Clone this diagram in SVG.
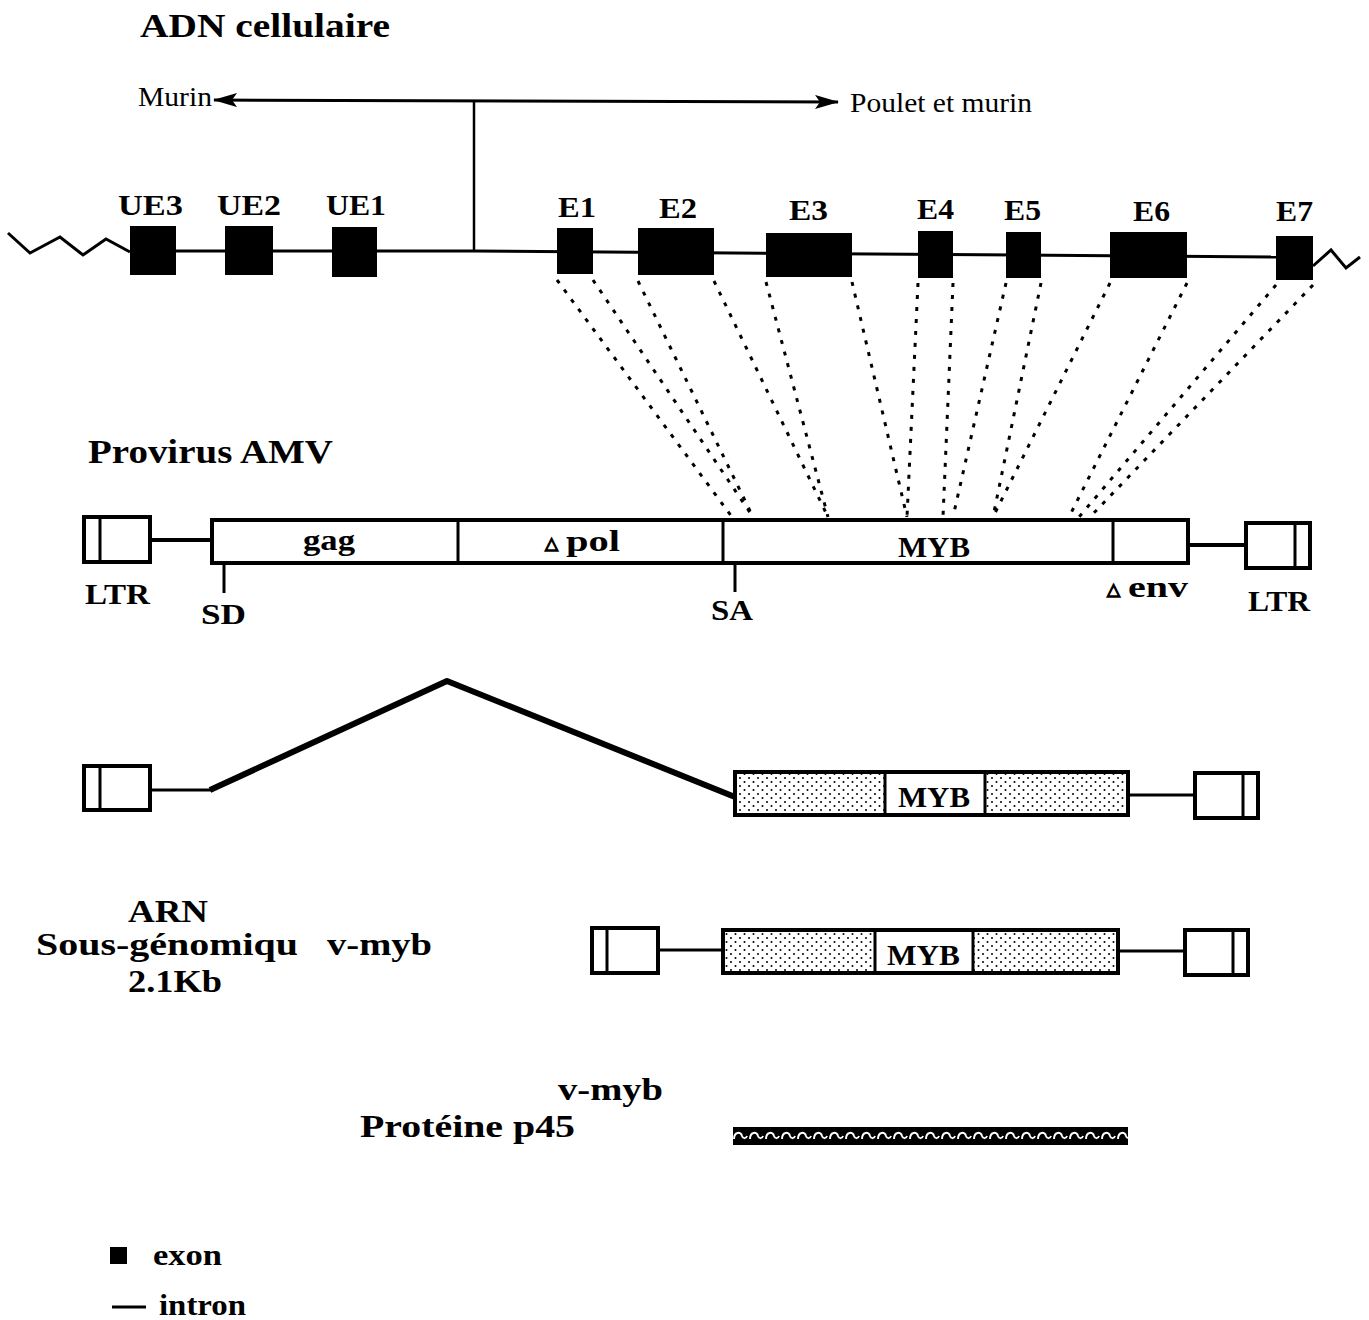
<svg xmlns="http://www.w3.org/2000/svg" width="1369" height="1320" viewBox="0 0 1369 1320">
<style>
.b{font-family:"Liberation Serif","Times New Roman",serif;font-weight:bold;fill:#000}
.r{font-family:"Liberation Serif","Times New Roman",serif;fill:#000}
.ln{stroke:#000;fill:none;stroke-width:3}
.thk{stroke:#000;fill:none;stroke-width:6;stroke-linejoin:round}
.c4{stroke:#000;fill:none;stroke-width:4}
.box{stroke:#000;fill:#fff;stroke-width:4}
.dv{stroke:#000;stroke-width:3}
.ex{fill:#000}
.dot{stroke:#000;stroke-width:3;stroke-dasharray:4 8;fill:none}
.tri{font-family:"DejaVu Sans",sans-serif;font-weight:bold;stroke:#000;stroke-width:1.4}
</style>
<defs>
<marker id="ah" viewBox="0 0 24 14" refX="23" refY="7" markerWidth="24" markerHeight="14" markerUnits="userSpaceOnUse" orient="auto-start-reverse">
<path d="M0,0 L24,7 L0,14 L5,7 z" fill="#000"/>
</marker>
<pattern id="stip" width="9" height="8" patternUnits="userSpaceOnUse">
<rect width="9" height="8" fill="#fff"/>
<circle cx="2" cy="2" r="1" fill="#000"/>
<circle cx="6.5" cy="6" r="1" fill="#000"/>
</pattern>
<pattern id="wave" width="16" height="18" patternUnits="userSpaceOnUse" x="733" y="1127">
<rect width="16" height="18" fill="#000"/>
<path d="M1,12 C1,5 8,4 9,9 C10,12 13,12 14,9" stroke="#fff" stroke-width="2" fill="none"/>
</pattern>
</defs>

<g id="titles">
<text class="b" x="140" y="37" font-size="33" textLength="250" lengthAdjust="spacingAndGlyphs">ADN  cellulaire</text>
<text class="b" x="88" y="463" font-size="33" textLength="245" lengthAdjust="spacingAndGlyphs">Provirus  AMV</text>
</g>

<g id="connectors">
<line class="ln" x1="214" y1="100" x2="838" y2="102" marker-start="url(#ah)" marker-end="url(#ah)"/>
<line class="ln" x1="474" y1="100" x2="474" y2="251" style="stroke-width:2.5"/>
<polyline class="ln" points="8,233 30,253 60,237 83,255 106,239 130,252"/>
<line class="ln" x1="130" y1="251" x2="474" y2="251"/>
<polyline class="ln" points="474,251 1276,257"/>
<polyline class="ln" points="1313,266 1331,250 1346,268 1360,257"/>
<line class="dot" x1="557" y1="280" x2="732" y2="517"/>
<line class="dot" x1="593" y1="280" x2="753" y2="517"/>
<line class="dot" x1="638" y1="281" x2="753" y2="517"/>
<line class="dot" x1="714" y1="281" x2="828" y2="517"/>
<line class="dot" x1="766" y1="282" x2="828" y2="517"/>
<line class="dot" x1="852" y1="282" x2="907" y2="517"/>
<line class="dot" x1="918" y1="283" x2="907" y2="517"/>
<line class="dot" x1="953" y1="283" x2="943" y2="517"/>
<line class="dot" x1="1006" y1="283" x2="953" y2="517"/>
<line class="dot" x1="1041" y1="283" x2="993" y2="517"/>
<line class="dot" x1="1110" y1="283" x2="993" y2="517"/>
<line class="dot" x1="1187" y1="283" x2="1069" y2="517"/>
<line class="dot" x1="1276" y1="285" x2="1079" y2="517"/>
<line class="dot" x1="1313" y1="285" x2="1090" y2="517"/>
<line class="c4" x1="150" y1="540" x2="212" y2="540"/>
<line class="c4" x1="1188" y1="545" x2="1246" y2="545"/>
<line class="ln" x1="150" y1="790" x2="212" y2="790"/>
<polyline class="thk" points="210,790 447,681 735,797"/>
<line class="ln" x1="1128" y1="795" x2="1195" y2="795"/>
<line class="ln" x1="658" y1="950" x2="723" y2="950"/>
<line class="ln" x1="1118" y1="951" x2="1185" y2="951"/>
</g>

<g id="murin-label"><text class="r" x="138" y="106" font-size="27" textLength="74" lengthAdjust="spacingAndGlyphs">Murin</text></g>
<g id="poulet-label"><text class="r" x="850" y="112" font-size="27" textLength="182" lengthAdjust="spacingAndGlyphs">Poulet et murin</text></g>

<g id="UE3"><rect class="ex" x="130" y="226" width="46" height="49"/><text class="b" x="118" y="215" font-size="30" textLength="65" lengthAdjust="spacingAndGlyphs">UE3</text></g>
<g id="UE2"><rect class="ex" x="225" y="226" width="48" height="49"/><text class="b" x="217" y="215" font-size="30" textLength="64" lengthAdjust="spacingAndGlyphs">UE2</text></g>
<g id="UE1"><rect class="ex" x="332" y="227" width="45" height="50"/><text class="b" x="326" y="215" font-size="30" textLength="60" lengthAdjust="spacingAndGlyphs">UE1</text></g>

<g id="E1"><rect class="ex" x="557" y="228" width="36" height="46"/><text class="b" x="558" y="217" font-size="30" textLength="38" lengthAdjust="spacingAndGlyphs">E1</text></g>
<g id="E2"><rect class="ex" x="638" y="228" width="76" height="47"/><text class="b" x="659" y="218" font-size="30" textLength="38" lengthAdjust="spacingAndGlyphs">E2</text></g>
<g id="E3"><rect class="ex" x="766" y="233" width="86" height="44"/><text class="b" x="789" y="220" font-size="30" textLength="39" lengthAdjust="spacingAndGlyphs">E3</text></g>
<g id="E4"><rect class="ex" x="918" y="231" width="35" height="47"/><text class="b" x="917" y="219" font-size="30" textLength="37" lengthAdjust="spacingAndGlyphs">E4</text></g>
<g id="E5"><rect class="ex" x="1006" y="232" width="35" height="46"/><text class="b" x="1004" y="220" font-size="30" textLength="37" lengthAdjust="spacingAndGlyphs">E5</text></g>
<g id="E6"><rect class="ex" x="1110" y="232" width="77" height="46"/><text class="b" x="1133" y="221" font-size="30" textLength="37" lengthAdjust="spacingAndGlyphs">E6</text></g>
<g id="E7"><rect class="ex" x="1276" y="236" width="37" height="44"/><text class="b" x="1276" y="221" font-size="30" textLength="37" lengthAdjust="spacingAndGlyphs">E7</text></g>

<g id="provirus-ltr-left">
<rect class="box" x="84" y="517" width="66" height="45"/>
<line class="dv" x1="100" y1="517" x2="100" y2="562"/>
<text class="b" x="85" y="604" font-size="29" textLength="65" lengthAdjust="spacingAndGlyphs">LTR</text>
</g>
<g id="provirus-body">
<rect class="box" x="212" y="520" width="976" height="43"/>
<line class="dv" x1="458" y1="520" x2="458" y2="563"/>
<line class="dv" x1="723" y1="520" x2="723" y2="563"/>
<line class="dv" x1="1113" y1="520" x2="1113" y2="563"/>
<text class="b" x="303" y="550" font-size="30" textLength="52" lengthAdjust="spacingAndGlyphs">gag</text>
<text class="tri" x="545" y="549" font-size="17">△</text>
<text class="b" x="566" y="551" font-size="30" textLength="54" lengthAdjust="spacingAndGlyphs">pol</text>
<text class="b" x="898" y="557" font-size="30" textLength="72" lengthAdjust="spacingAndGlyphs">MYB</text>
<line class="dv" x1="224" y1="563" x2="224" y2="593"/>
<text class="b" x="201" y="624" font-size="29" textLength="45" lengthAdjust="spacingAndGlyphs">SD</text>
<line class="dv" x1="735" y1="563" x2="735" y2="592"/>
<text class="b" x="711" y="620" font-size="29" textLength="42" lengthAdjust="spacingAndGlyphs">SA</text>
<text class="tri" x="1107" y="595" font-size="17">△</text>
<text class="b" x="1128" y="597" font-size="29" textLength="60" lengthAdjust="spacingAndGlyphs">env</text>
</g>
<g id="provirus-ltr-right">
<rect class="box" x="1246" y="523" width="64" height="45"/>
<line class="dv" x1="1295" y1="523" x2="1295" y2="568"/>
<text class="b" x="1248" y="611" font-size="29" textLength="62" lengthAdjust="spacingAndGlyphs">LTR</text>
</g>

<g id="spliced-ltr-left">
<rect class="box" x="84" y="766" width="66" height="44"/>
<line class="dv" x1="100" y1="766" x2="100" y2="810"/>
</g>
<g id="spliced-body">
<rect x="735" y="772" width="393" height="43" fill="url(#stip)" stroke="#000" stroke-width="4"/>
<rect x="885" y="774" width="100" height="39" fill="#fff"/>
<line class="dv" x1="885" y1="772" x2="885" y2="815"/>
<line class="dv" x1="985" y1="772" x2="985" y2="815"/>
<text class="b" x="898" y="807" font-size="30" textLength="72" lengthAdjust="spacingAndGlyphs">MYB</text>
</g>
<g id="spliced-ltr-right">
<rect class="box" x="1195" y="773" width="63" height="45"/>
<line class="dv" x1="1243" y1="773" x2="1243" y2="818"/>
</g>

<g id="arn-label">
<text class="b" x="128" y="922" font-size="32" textLength="80" lengthAdjust="spacingAndGlyphs">ARN</text>
<text class="b" x="36" y="955" font-size="32" textLength="262" lengthAdjust="spacingAndGlyphs">Sous-génomiqu</text>
<text class="b" x="327" y="955" font-size="32" textLength="105" lengthAdjust="spacingAndGlyphs">v-myb</text>
<text class="b" x="128" y="992" font-size="32" textLength="94" lengthAdjust="spacingAndGlyphs">2.1Kb</text>
</g>
<g id="rna-ltr-left">
<rect class="box" x="592" y="928" width="66" height="45"/>
<line class="dv" x1="607" y1="928" x2="607" y2="973"/>
</g>
<g id="rna-body">
<rect x="723" y="930" width="395" height="43" fill="url(#stip)" stroke="#000" stroke-width="4"/>
<rect x="875" y="932" width="98" height="39" fill="#fff"/>
<line class="dv" x1="875" y1="930" x2="875" y2="973"/>
<line class="dv" x1="973" y1="930" x2="973" y2="973"/>
<text class="b" x="887" y="965" font-size="30" textLength="73" lengthAdjust="spacingAndGlyphs">MYB</text>
</g>
<g id="rna-ltr-right">
<rect class="box" x="1185" y="930" width="63" height="45"/>
<line class="dv" x1="1233" y1="930" x2="1233" y2="975"/>
</g>

<g id="protein-label">
<text class="b" x="558" y="1100" font-size="32" textLength="105" lengthAdjust="spacingAndGlyphs">v-myb</text>
<text class="b" x="360" y="1137" font-size="32" textLength="215" lengthAdjust="spacingAndGlyphs">Protéine  p45</text>
</g>
<g id="protein-bar">
<rect x="733" y="1127" width="395" height="18" fill="url(#wave)"/>
</g>

<g id="legend">
<rect class="ex" x="110" y="1247" width="17" height="17"/>
<text class="b" x="153" y="1265" font-size="30" textLength="69" lengthAdjust="spacingAndGlyphs">exon</text>
<line class="ln" x1="112" y1="1307" x2="146" y2="1307"/>
<text class="b" x="159" y="1315" font-size="30" textLength="87" lengthAdjust="spacingAndGlyphs">intron</text>
</g>
</svg>
